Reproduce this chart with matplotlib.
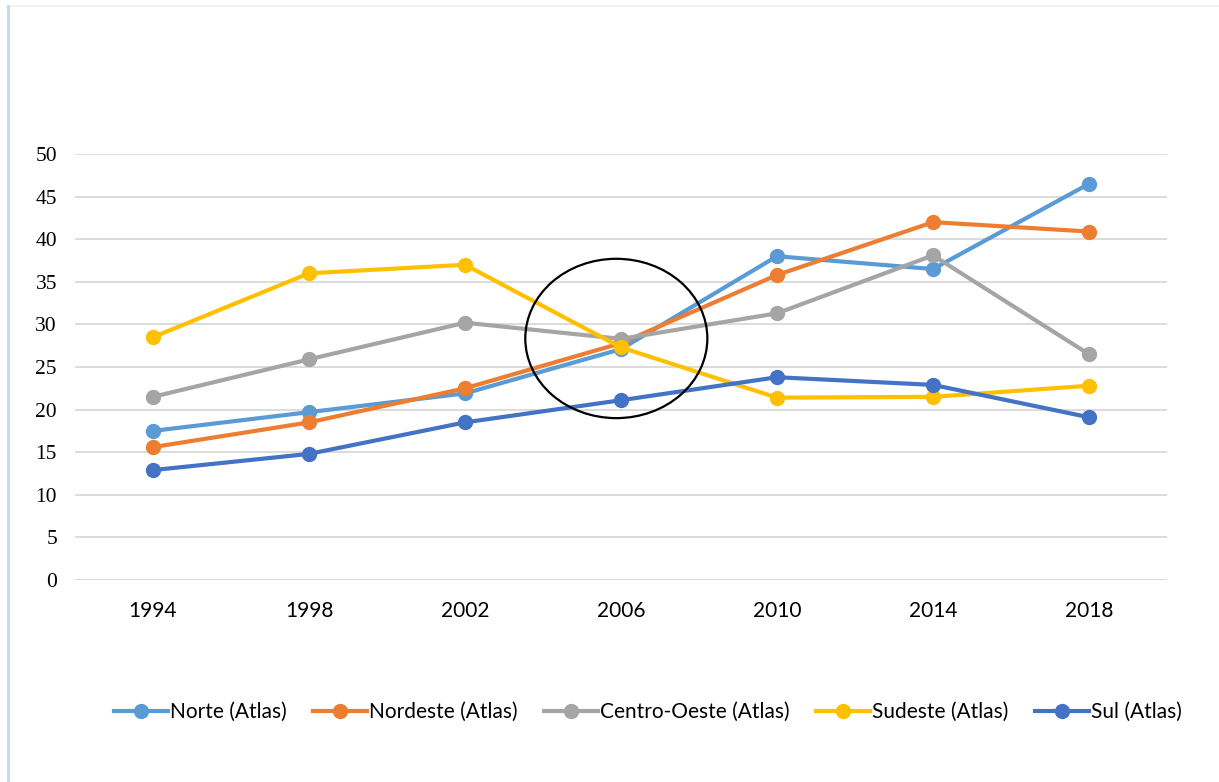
import matplotlib.pyplot as plt
from matplotlib.patches import Ellipse
from matplotlib.lines import Line2D

# data
years = ['1994', '1998', '2002', '2006', '2010', '2014', '2018']
norte = [17.5, 19.7, 21.9, 27.1, 38.0, 36.5, 46.5]
nordeste = [15.6, 18.5, 22.5, 27.8, 35.8, 42.0, 40.9]
centro_oeste = [21.5, 25.9, 30.2, 28.3, 31.3, 38.1, 26.5]
sudeste = [28.5, 36.0, 37.0, 27.3, 21.4, 21.5, 22.8]
sul = [12.9, 14.8, 18.5, 21.1, 23.8, 22.9, 19.1]

series = [
    ('Norte (Atlas)', norte, '#5B9BD5'),
    ('Nordeste (Atlas)', nordeste, '#ED7D31'),
    ('Centro-Oeste (Atlas)', centro_oeste, '#A5A5A5'),
    ('Sudeste (Atlas)', sudeste, '#FFC000'),
    ('Sul (Atlas)', sul, '#4472C4'),
]

W, H = 1219, 782
fig = plt.figure(figsize=(W / 100, H / 100), dpi=100)
ax = fig.add_axes([75 / W, (H - 580) / H, (1167 - 75) / W, (580 - 154) / H])

x = list(range(len(years)))
for label, vals, color in series:
    ax.plot(x, vals, color=color, lw=3.0, marker='o', markersize=10,
            label=label, solid_capstyle='round', zorder=3)

ax.set_xlim(-0.5, len(years) - 0.5)
ax.set_ylim(0, 50)
ax.set_yticks(range(0, 51, 5))
ax.set_xticks(x)
ax.set_xticklabels(years, fontfamily='Lato', fontsize=15)
for t in ax.get_yticklabels():
    t.set_fontfamily('Liberation Serif')
    t.set_fontsize(15.5)
ax.tick_params(length=0)
ax.tick_params(axis='x', pad=15)
ax.tick_params(axis='y', pad=13)
ax.grid(axis='y', color='#D9D9D9', lw=1.3)
ax.set_axisbelow(True)
for s in ax.spines.values():
    s.set_visible(False)
ax.axhline(0, color='#D9D9D9', lw=1.3, zorder=1)

# circle highlighting 2006
ax.add_patch(Ellipse((2.97, 28.35), 1.167, 18.7, fill=False,
                     edgecolor='black', lw=1.6, zorder=4))

handles = [Line2D([0], [0], color=c, lw=3.0, marker='o', markersize=10)
           for _, _, c in series]
fig.legend(handles, [s[0] for s in series], loc='center',
           bbox_to_anchor=(648 / W, 1 - 712 / H), ncol=5, frameon=False,
           prop={'family': 'Lato', 'size': 15}, handlelength=2.6,
           handletextpad=0.1, columnspacing=1.25)

# faint frame
fig.add_artist(Line2D([7 / W, 1], [1 - 6 / H, 1 - 6 / H], color='#EEF3F9', lw=1.5))
fig.add_artist(Line2D([8 / W, 8 / W], [0, 1 - 6 / H], color='#BDD7EE', lw=2))

fig.savefig('out.png', dpi=100)
